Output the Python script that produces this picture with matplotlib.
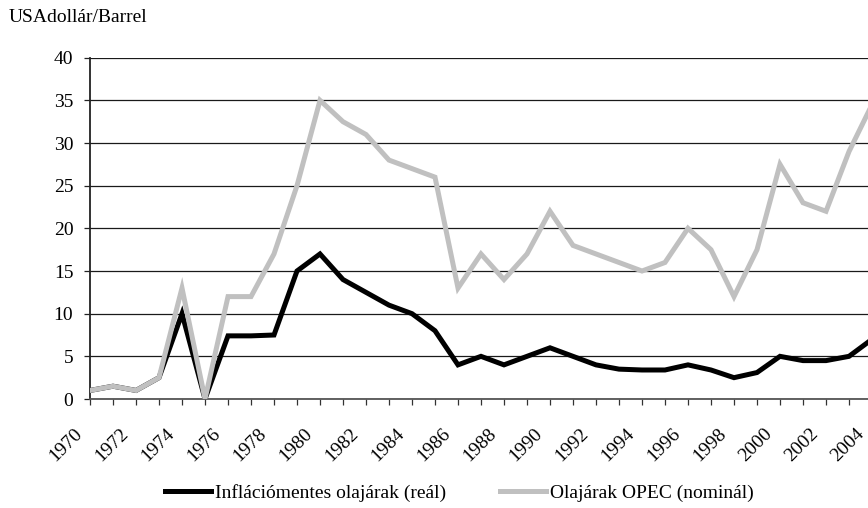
import matplotlib
matplotlib.use("Agg")
import matplotlib.pyplot as plt
import matplotlib.transforms as mtransforms

plt.rcParams['font.family'] = ['Liberation Serif', 'DejaVu Serif']

years = list(range(1970, 2005))
real = [1.0, 1.5, 1.0, 2.5, 10.0, 0.0, 7.4, 7.4, 7.5, 15.0,
        17.0, 14.0, 12.5, 11.0, 10.0, 8.0, 4.0, 5.0, 4.0, 5.0,
        6.0, 5.0, 4.0, 3.5, 3.4, 3.4, 4.0, 3.4, 2.5, 3.1,
        5.0, 4.5, 4.5, 5.0, 7.0]
nominal = [1.0, 1.5, 1.0, 2.5, 13.0, 0.0, 12.0, 12.0, 17.0, 25.0,
           35.0, 32.5, 31.0, 28.0, 27.0, 26.0, 13.0, 17.0, 14.0, 17.0,
           22.0, 18.0, 17.0, 16.0, 15.0, 16.0, 20.0, 17.5, 12.0, 17.5,
           27.5, 23.0, 22.0, 29.0, 34.5]
labels = ["Inflációmentes olajárak (reál)", "Olajárak OPEC (nominál)"]
ylabel = "USAdollár/Barrel"
yticks = [0, 5, 10, 15, 20, 25, 30, 35, 40]

FS = 14
W, H = 868, 508
fig = plt.figure(figsize=(W / 100, H / 100), dpi=100)
left, right, bottom, top = 90, 872, 399, 57.7
ax = fig.add_axes([left / W, 1 - bottom / H, (right - left) / W, (bottom - top) / H])

l1, = ax.plot(years, real, color='black', lw=3.6, solid_joinstyle='miter', zorder=3)
l2, = ax.plot(years, nominal, color='#c0c0c0', lw=3.6, solid_joinstyle='miter', zorder=4)

ax.set_xlim(1970, 2004)
ax.set_ylim(0, 40)
ax.set_yticks(yticks)
ax.set_yticklabels([str(v) for v in yticks], fontsize=FS)
ax.yaxis.grid(True, color='#1a1a1a', lw=0.9)
ax.set_axisbelow(True)

ax.set_xticks(years)
ax.set_xticklabels([str(y) if (y - 1970) % 2 == 0 else '' for y in years],
                   rotation=45, ha='right', va='top', rotation_mode='anchor', fontsize=FS)
ax.tick_params(axis='x', length=4, width=0.9, color='#333333', pad=15)
ax.tick_params(axis='y', length=4, width=0.9, color='#222222', pad=8)
offset = mtransforms.ScaledTranslation(-11.5 / 72, 0, fig.dpi_scale_trans)
for lab in ax.get_xticklabels():
    lab.set_transform(lab.get_transform() + offset)

for s in ['top', 'right']:
    ax.spines[s].set_visible(False)
ax.spines['left'].set_color('#222222')
ax.spines['left'].set_linewidth(1.3)
ax.spines['bottom'].set_color('#555555')
ax.spines['bottom'].set_linewidth(1.3)

fig.text(9 / W, 1 - 8.5 / H, ylabel, fontsize=FS, ha='left', va='top')

fig.legend([l1, l2], labels, loc='center', bbox_to_anchor=(459.5 / W, 1 - 493 / H),
           ncol=2, frameon=False, fontsize=FS, handlelength=2.37, handletextpad=0.2,
           columnspacing=2.8)

fig.savefig('out.png', dpi=100)
